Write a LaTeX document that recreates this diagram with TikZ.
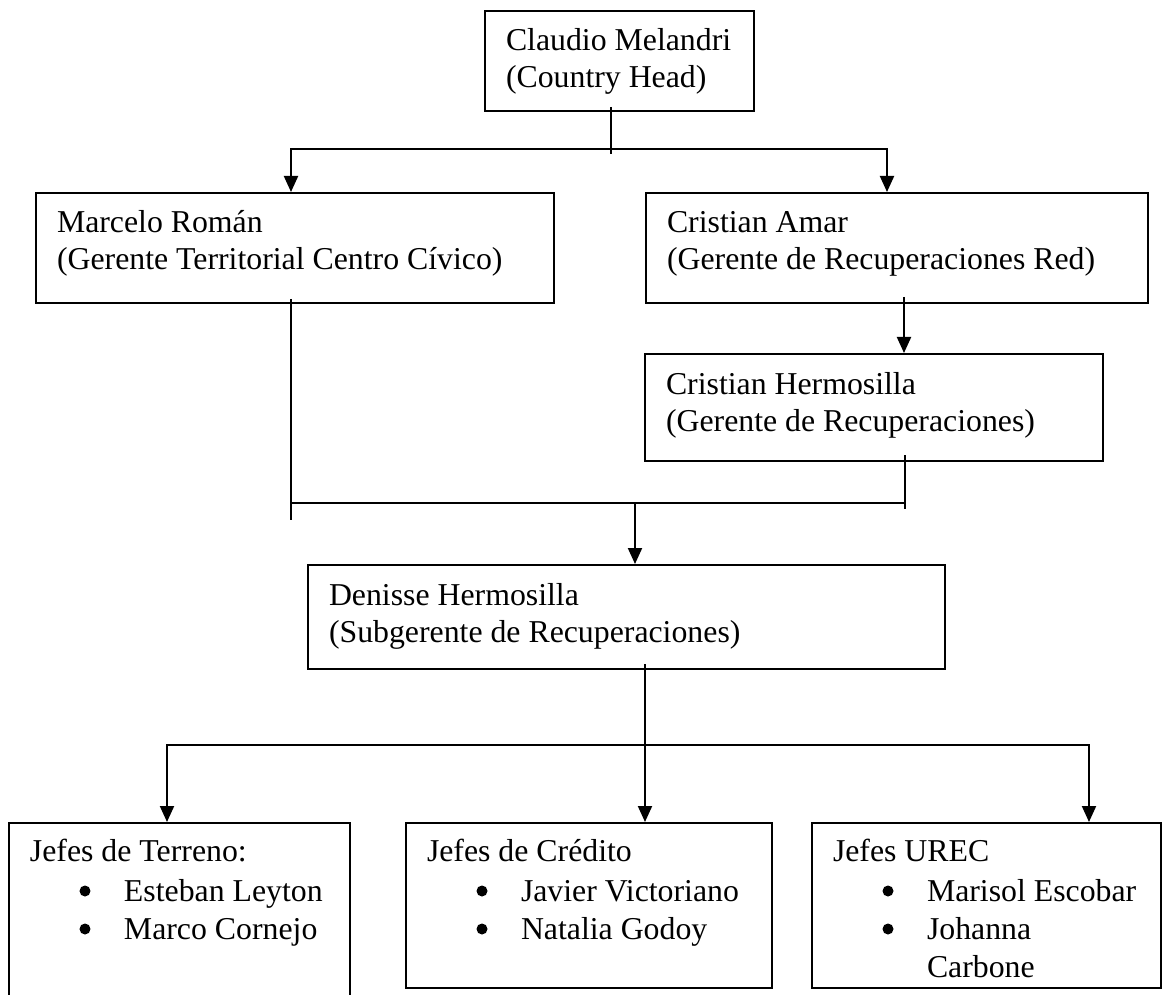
\documentclass[tikz,border=0pt]{standalone}
\usepackage{fontspec}
\setmainfont{Liberation Serif}
\usetikzlibrary{arrows.meta}
% #1 width, #2 height, #3 first-baseline offset, #4 baselineskip, #5 content
\newcommand\bx[5]{\parbox[t][#2pt][t]{#1pt}{\leftskip=21pt\rightskip=0pt plus 1fil\parfillskip=0pt plus 1fil\baselineskip=#4pt\rule{0pt}{#3pt}#5}}
\newcommand\bulletdot{\tikz[baseline=0pt,x=1pt,y=1pt]{\fill (0,10) circle (5.5);}}
\newcommand\itm[1]{\hspace*{49.5pt}\makebox[44.5pt][l]{\bulletdot}#1}
\begin{document}
\begin{tikzpicture}[x=1pt,y=-1pt,
  font=\fontsize{31.8pt}{37pt}\selectfont,
  box/.style={draw, line width=2pt, inner sep=0pt, anchor=north west},
  conn/.style={line width=2pt},
  arr/.style={line width=2pt, -{Triangle[width=14pt,length=16pt]}},
  arrtwo/.style={line width=2pt, {Triangle[width=14pt,length=16pt]}-{Triangle[width=14pt,length=16pt]}}]
\fill[white] (0,0) rectangle (1163,995);
\clip (0,0) rectangle (1163,995);

\node[box] (cm) at (484,10) {\bx{269}{100}{40}{37}{Claudio Melandri\\(Country Head)}};
\node[box] (mr) at (35,192) {\bx{518}{110}{40}{37}{Marcelo Román\\(Gerente Territorial Centro Cívico)}};
\node[box] (ca) at (645,192) {\bx{502}{110}{40}{37}{Cristian Amar\\(Gerente de Recuperaciones Red)}};
\node[box] (ch) at (644,353) {\bx{458}{107}{40}{37}{Cristian Hermosilla\\(Gerente de Recuperaciones)}};
\node[box] (dh) at (307,564) {\bx{637}{104}{40}{37}{Denisse Hermosilla\\(Subgerente de Recuperaciones)}};
\node[box] (jt) at (8,822) {\bx{341}{180}{38}{38}{Jefes de Terreno:\\[2pt]\itm{Esteban Leyton}\\\itm{Marco Cornejo}}};
\node[box] (jc) at (405,822) {\bx{366}{165}{38}{38}{Jefes de Crédito\\[2pt]\itm{Javier Victoriano}\\\itm{Natalia Godoy}}};
\node[box] (ju) at (811,822) {\bx{349}{165}{38}{38}{Jefes UREC\\[2pt]\itm{Marisol Escobar}\\\itm{Johanna}\\\hspace*{94pt}Carbone}};

% Country Head to first level
\coordinate (a1) at (611,154);
\draw[conn] ([yshift=5pt]cm.south -| a1) -- (a1);
\coordinate (h1) at (291,149);
\coordinate (h2) at (887,149);
\draw[arrtwo] (mr.north -| h1) -- (h1) -- (h2) -- (ca.north -| h2);

% Cristian Amar to Cristian Hermosilla
\coordinate (b1) at (904,0);
\draw[arr] ([yshift=7pt]ca.south -| b1) -- (ch.north -| b1);

% Merge to Denisse
\coordinate (m1) at (291,520);
\coordinate (m2) at (291,503);
\coordinate (m3) at (905,503);
\coordinate (m4) at (905,509);
\draw[conn] ([yshift=5pt]mr.south -| m1) -- (m1);
\draw[conn] (m2) -- (m3);
\draw[conn] ([yshift=7pt]ch.south -| m4) -- (m4);
\coordinate (d0) at (635,503);
\draw[arr] (d0) -- (dh.north -| d0);

% Denisse to Jefes
\coordinate (e0) at (645,0);
\draw[arr] ([yshift=6pt]dh.south -| e0) -- (jc.north -| e0);
\coordinate (g1) at (167,745);
\coordinate (g2) at (1089,745);
\draw[arrtwo] (jt.north -| g1) -- (g1) -- (g2) -- (ju.north -| g2);
\end{tikzpicture}
\end{document}
